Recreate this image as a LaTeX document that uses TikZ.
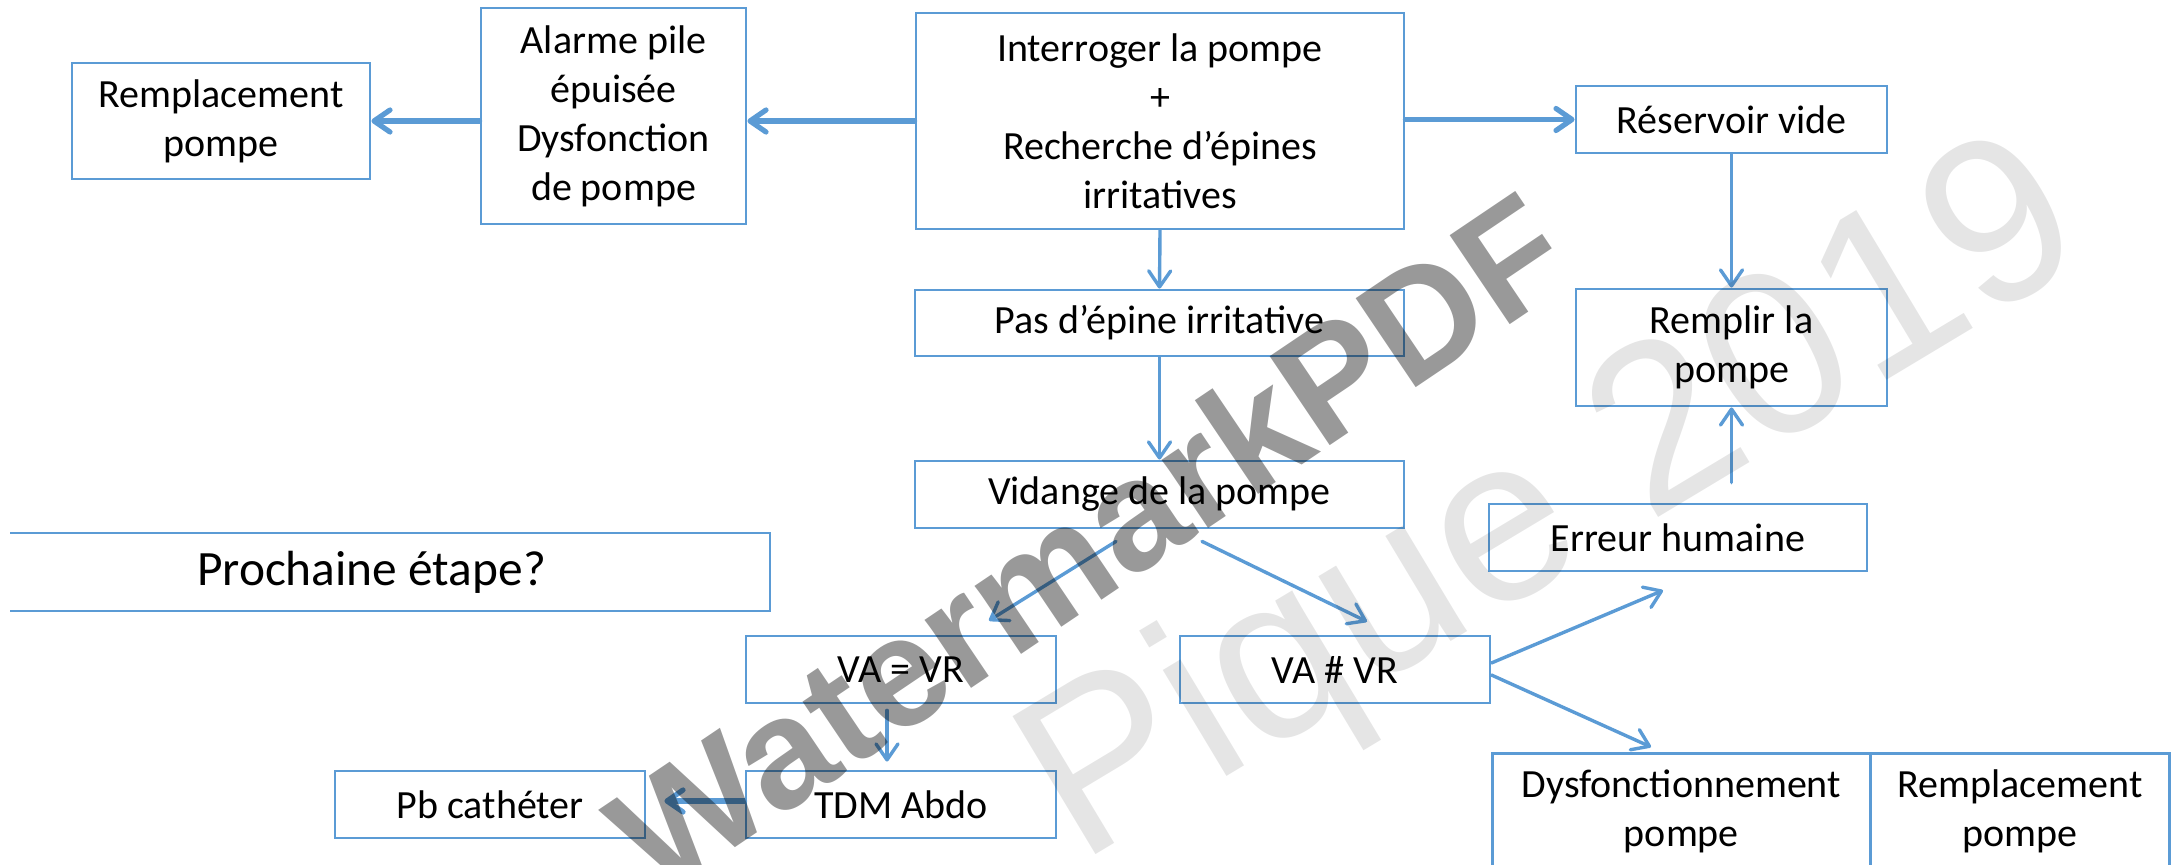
\documentclass[tikz,border=0pt]{standalone}
\usepackage{fontspec}
\setmainfont{Carlito}
\newfontfamily\wmfont{Liberation Sans}
\usetikzlibrary{arrows.meta,calc}
\definecolor{bl}{HTML}{5B9BD5}
\tikzset{
  box/.style={draw=bl, line width=1.4pt, align=center, inner sep=0pt, font=\fontsize{20}{24.5}\selectfont},
  txt/.style={align=center, inner sep=0pt, font=\fontsize{20}{24.5}\selectfont},
  arr/.style={draw=bl, line width=1.7pt, line cap=round, -{Straight Barb[length=8pt,width=11pt,line cap=round,line join=round]}},
  arrthick/.style={arr, line width=2.6pt},
}
\begin{document}
\begin{tikzpicture}[x=0.5pt,y=-0.5pt]
\useasboundingbox (0,0) rectangle (2174,865);
\clip (0,0) rectangle (2174,865);

% boxes
\node[box, minimum width=149pt, minimum height=58pt] (remL) at (221,121) {Remplacement\\pompe};
\node[box, minimum width=132.5pt, minimum height=108pt] (alarme) at (613.5,116) {Alarme pile\\épuisée\\Dysfonction\\de pompe};
\node[box, minimum width=244pt, minimum height=108pt] (interroger) at (1160,121) {Interroger la pompe\\+\\Recherche d’épines\\irritatives};
\node[box, minimum width=155.5pt, minimum height=33.5pt] (reservoir) at (1731.5,119.5) {Réservoir vide};
\node[box, minimum width=155.5pt, minimum height=58.5pt] (remplir) at (1731.5,347.5) {Remplir la\\pompe};
\node[box, minimum width=244.5pt, minimum height=33pt] (pas) at (1159.5,323) {Pas d’épine irritative};
\node[box, minimum width=244.5pt, minimum height=33.5pt] (vidange) at (1159.5,494.5) {Vidange de la pompe};
\node[box, minimum width=189pt, minimum height=33.5pt] (erreur) at (1678,537.5) {Erreur humaine};
\node[box, minimum width=155pt, minimum height=33.5pt] (vaeq) at (901,669.5) {VA = VR};
\node[box, minimum width=155pt, minimum height=33.5pt] (vane) at (1335,669.5) {VA \# VR};
\node[box, minimum width=155pt, minimum height=33.5pt] (tdm) at (901,804.5) {TDM Abdo};
\node[box, minimum width=155pt, minimum height=33.5pt] (pb) at (490,804.5) {Pb cathéter};
\node[box, anchor=north west, minimum width=189pt, minimum height=124pt] (dysf) at (1491,752) {};
\node[box, anchor=north west, minimum width=149.5pt, minimum height=124pt] (remR) at (1869,752) {};
\node[txt, anchor=north] (dysfT) at ($(dysf.north)+(0,17)$) {Dysfonctionnement\\pompe};
\node[txt, anchor=north] (remRT) at ($(remR.north)+(0,17)$) {Remplacement\\pompe};

% Prochaine étape (open on the left)
\node[txt, font=\fontsize{24.7}{30}\selectfont] (proch) at (371.5,572) {Prochaine étape?};
\draw[bl, line width=1.4pt] (10,533) -- (770,533) -- (770,611) -- (10,611);

% connectors
\draw[arrthick] (interroger.west) -- (alarme.east |- interroger.west);
\draw[arrthick] (alarme.west |- remL.east) -- (remL.east);
\draw[arrthick] (interroger.east |- reservoir.west) -- (reservoir.west);
\draw[arr] (reservoir.south) -- (remplir.north);
\draw[arr] (interroger.south) -- (pas.north);
\draw[arr] (pas.south) -- (vidange.north);
\draw[arr] ($(vidange.south)+(-43.5,12)$) -- ($(vaeq.north)+(88,-14)$);
\draw[arr] ($(vidange.south)+(42.5,12)$) -- ($(vane.north)+(32,-13)$);
\draw[arr] ($(vane.east)+(0,-6.5)$) -- ($(erreur.south)+(-15,18)$);
\draw[arr] ($(vane.east)+(0,5.5)$) -- ($(dysf.north west)+(160,-5)$);
\draw[arr] ($(vaeq.south)+(-14,6)$) -- ($(tdm.north)+(-14,-8)$);
\draw[arrthick] ($(tdm.west)+(0,-3.5)$) -- ($(pb.east)+(18,-3.5)$);
\draw[arr] ($(erreur.north -| remplir.south)+(0,-20)$) -- (remplir.south);

% watermarks
\node[rotate=31, text=black, opacity=0.1, inner sep=0pt, font=\wmfont\fontsize{117}{117}\selectfont] (wm2) at (1556,508) {Pique 2019};
\node[rotate=34, text=black, opacity=0.4, inner sep=0pt, font=\wmfont\bfseries\fontsize{78}{78}\selectfont] (wm1) at (1088,542) {WatermarkPDF};
\end{tikzpicture}
\end{document}
